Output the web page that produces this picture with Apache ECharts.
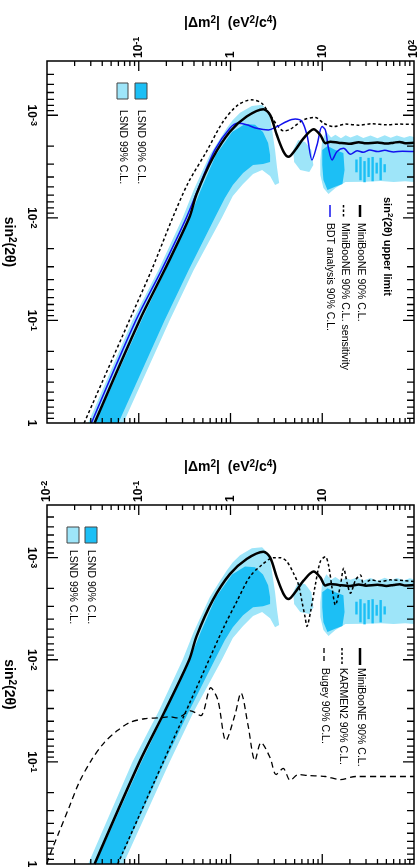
<!DOCTYPE html>
<html>
<head>
<meta charset="utf-8">
<script src="https://cdn.jsdelivr.net/npm/echarts@6/dist/echarts.min.js"></script>
<style>
html, body { margin: 0; padding: 0; background: #fff; }
#chart { width: 418px; height: 867px; }
</style>
</head>
<body>
<div id="chart"></div>
<script>
// points are [Δm² (eV²/c⁴), sin²(2θ)]
var miniboone90 = [[0.033, 1.0], [0.102, 0.1], [0.191, 0.0323], [0.355, 0.01], [0.426, 0.0059], [0.641, 0.00261],
  [0.984, 0.00145], [1.50, 0.00103], [2.28, 0.000873], [2.70, 0.000993], [3.20, 0.00156], [3.78, 0.00226],
  [4.29, 0.00254], [5.07, 0.00218], [6.25, 0.00168], [8.05, 0.00137], [9.53, 0.00156], [10.8, 0.00187],
  [12.3, 0.00181], [15, 0.00185], [20, 0.0019], [25, 0.00183], [30, 0.00188], [40, 0.00184], [50, 0.00189],
  [60, 0.00185], [70, 0.00182], [80, 0.00187], [100, 0.00185]];
var sensitivity90 = [[0.0254, 1.0], [0.079, 0.1], [0.138, 0.0323], [0.234, 0.01], [0.344, 0.0046], [0.547, 0.00226],
  [0.832, 0.00115], [1.21, 0.000793], [1.70, 0.000708], [2.19, 0.000764], [2.70, 0.000993], [3.20, 0.00124],
  [3.78, 0.00142], [4.47, 0.00137], [6.25, 0.00111], [8.40, 0.00105], [10.4, 0.0012], [13.3, 0.00129],
  [18, 0.00122], [25, 0.00125], [35, 0.00121], [50, 0.00124], [70, 0.00122], [100, 0.00123]];
var bdt90 = [[0.0305, 1.0], [0.093, 0.1], [0.177, 0.0323], [0.330, 0.01], [0.462, 0.00479], [0.675, 0.00218],
  [0.984, 0.00134], [1.21, 0.0012], [1.50, 0.00124], [1.93, 0.00134], [2.59, 0.00139], [3.20, 0.00129],
  [4.11, 0.00115], [5.07, 0.00109], [6.01, 0.00115], [6.82, 0.00156], [7.73, 0.00273], [8.77, 0.00195],
  [9.95, 0.00129], [10.8, 0.00139], [11.7, 0.0021], [12.8, 0.00273], [14.5, 0.00226], [17.1, 0.0021],
  [20.3, 0.0024], [24, 0.00222], [28, 0.0023], [33, 0.00218], [40, 0.00226], [48, 0.0022], [60, 0.00228],
  [75, 0.00224], [100, 0.00226]];
var karmen90 = [[0.059, 1.0], [0.144, 0.165], [0.304, 0.037], [0.533, 0.012], [0.836, 0.0049], [1.17, 0.00269],
  [1.63, 0.00153], [2.19, 0.00118], [2.94, 0.001], [3.48, 0.001], [4.11, 0.00109], [4.86, 0.00142],
  [5.52, 0.00185], [6.01, 0.00269], [6.53, 0.00391], [6.81, 0.00471], [7.41, 0.00349], [8.40, 0.00185],
  [9.53, 0.00109], [10.8, 0.000977], [11.7, 0.00118], [12.8, 0.00199], [13.9, 0.0029], [15.8, 0.00185],
  [17.1, 0.00127], [18.7, 0.00178], [20.3, 0.00223], [23.1, 0.00165], [26.1, 0.00148], [28.4, 0.00185],
  [33.6, 0.00165], [43.3, 0.00171], [55.7, 0.00165], [78, 0.00168], [100, 0.00171]];
var bugey90 = [[0.01, 1.0], [0.0105, 0.857], [0.0135, 0.49], [0.0174, 0.279], [0.0224, 0.159], [0.0303, 0.097],
  [0.0421, 0.0647], [0.0585, 0.0494], [0.079, 0.0413], [0.115, 0.0378], [0.169, 0.037], [0.217, 0.0361],
  [0.265, 0.037], [0.368, 0.0316], [0.474, 0.0353], [0.61, 0.0188], [0.728, 0.0247], [0.891, 0.0619],
  [1.12, 0.0345], [1.30, 0.0211], [1.55, 0.0433], [1.85, 0.097], [2.15, 0.0647], [2.70, 0.0908],
  [3.14, 0.133], [3.75, 0.116], [4.48, 0.152], [5.47, 0.133], [7.05, 0.136], [10.8, 0.139], [15.8, 0.149],
  [23.1, 0.139], [43.3, 0.139], [100, 0.139]];

// LSND allowed regions (outlines)
var lsnd99 = [
  [[0.0281, 1], [0.0853, 0.1], [0.164, 0.0323], [0.301, 0.01], [0.397, 0.00536], [0.594, 0.00244], [0.728, 0.00182],
   [0.914, 0.00133], [1.06, 0.00111], [1.27, 0.000948], [1.71, 0.000811], [2.21, 0.000792], [2.64, 0.000929],
   [2.84, 0.00139], [3.06, 0.00218], [3.22, 0.00327], [3.39, 0.00457], [3.06, 0.00479], [2.70, 0.00391],
   [2.21, 0.00341], [1.76, 0.00373], [1.37, 0.00468], [1.06, 0.00612], [0.805, 0.01], [0.397, 0.0323],
   [0.217, 0.1], [0.0679, 1]],
  [[4.82, 0.00218], [5.47, 0.00174], [6.53, 0.00182], [7.60, 0.00218], [8.0, 0.00306], [7.23, 0.00357],
   [5.75, 0.00341], [4.94, 0.00285]],
  [[9.53, 0.00273], [10.0, 0.00174], [11.1, 0.00145], [12.5, 0.00165], [13.9, 0.00155], [16, 0.00168], [18, 0.00157],
   [20.3, 0.00165], [24, 0.00156], [28, 0.00167], [33.6, 0.00158], [40, 0.00168], [48, 0.00157], [55.7, 0.00166],
   [65, 0.00158], [78, 0.00166], [90, 0.00159], [100, 0.00163], [100, 0.00447], [80, 0.0044], [60, 0.00447],
   [43.3, 0.00438], [30, 0.00445], [17.9, 0.00447], [13.9, 0.00512], [11.7, 0.00586], [10.3, 0.00512],
   [9.53, 0.00382]]
];
var lsnd90 = [
  [[0.0336, 1], [0.107, 0.1], [0.196, 0.0323], [0.359, 0.01], [0.474, 0.00536], [0.692, 0.00244], [1.04, 0.00146],
   [1.44, 0.00122], [1.85, 0.00124], [2.26, 0.00146], [2.57, 0.00186], [2.70, 0.00244], [2.70, 0.00285],
   [2.26, 0.00299], [1.76, 0.00306], [1.37, 0.00366], [1.06, 0.00479], [0.869, 0.00641], [0.675, 0.01],
   [0.35, 0.0323], [0.191, 0.1], [0.06, 1]],
  [[10.0, 0.00218], [11.4, 0.00199], [13.9, 0.00218], [17.0, 0.00233], [17.5, 0.00341], [16.6, 0.00468],
   [13.6, 0.005], [11.4, 0.00536], [10.3, 0.00428], [10.0, 0.00306]]
];
// narrow 90% strips: [Δm², top sin², bottom sin²]
var lsnd90Strips = [[23.6, 0.0027, 0.0036], [26.1, 0.00255, 0.0043], [28.9, 0.0028, 0.0045], [32, 0.0026, 0.004],
  [35.4, 0.00255, 0.0044], [39.2, 0.0029, 0.0037], [43.3, 0.0026, 0.0043], [47.9, 0.003, 0.0036]];

var xRange = [0.01, 100];
var yRange1 = [2.96e-4, 1];
var yRange2 = [3.05e-4, 1];
var xMajorTicks = [0.1, 1, 10];
var xMinorTicks = [0.02, 0.03, 0.04, 0.05, 0.06, 0.07, 0.08, 0.09, 0.2, 0.3, 0.4, 0.5, 0.6, 0.7, 0.8, 0.9,
  2, 3, 4, 5, 6, 7, 8, 9, 20, 30, 40, 50, 60, 70, 80, 90];
var yMajorTicks = [0.001, 0.01, 0.1];
var yMinorTicks = [0.0004, 0.0005, 0.0006, 0.0007, 0.0008, 0.0009, 0.002, 0.003, 0.004, 0.005, 0.006, 0.007, 0.008, 0.009,
  0.02, 0.03, 0.04, 0.05, 0.06, 0.07, 0.08, 0.09, 0.2, 0.3, 0.4, 0.5, 0.6, 0.7, 0.8, 0.9];

var LIGHT = '#9ee5f9', DARK = '#1cbff5', BLUE = '#1212ee';
var FONT = '"Liberation Sans", Arial, sans-serif';
var GRIDS = [
  { left: 47, top: 61, width: 367, height: 362 },
  { left: 47, top: 505, width: 367, height: 359 }
];

var chart = echarts.init(document.getElementById('chart'));

function polyRender(polys, color) {
  return function (params, api) {
    var pts = polys[params.dataIndex].map(function (p) { return api.coord(p); });
    return { type: 'polygon', shape: { points: pts }, style: { fill: color } };
  };
}

function stripRender(params, api) {
  var a = api.coord([api.value(0), api.value(1)]);
  var b = api.coord([api.value(0), api.value(2)]);
  return { type: 'rect', shape: { x: a[0] - 1.2, y: a[1], width: 2.4, height: b[1] - a[1] }, style: { fill: DARK } };
}

function tickLabel(hide) {
  return function (v) {
    var l = Math.log10(v), e = Math.round(l);
    if (Math.abs(l - e) > 1e-6 || hide.indexOf(e) >= 0) return '';
    if (e === 0) return '{b|1}';
    if (e === 1) return '{b|10}';
    return '{b|10}{s|' + e + '}';
  };
}

var labelRich = {
  b: { fontSize: 12, fontWeight: 'bold', fontFamily: FONT, color: '#000', lineHeight: 14 },
  s: { fontSize: 9, fontWeight: 'bold', fontFamily: FONT, color: '#000', verticalAlign: 'top', lineHeight: 7 }
};
var nameRich = {
  t: { fontSize: 14, fontWeight: 'bold', fontFamily: FONT, color: '#000', lineHeight: 16 },
  u: { fontSize: 10, fontWeight: 'bold', fontFamily: FONT, color: '#000', verticalAlign: 'top', lineHeight: 8 }
};

function xAxisFor(gi, hide) {
  return {
    type: 'log', logBase: 10, gridIndex: gi, position: 'top', min: xRange[0], max: xRange[1],
    axisLine: { show: false, onZero: false }, axisTick: { show: false }, splitLine: { show: false },
    axisLabel: { rotate: -90, margin: 3, formatter: tickLabel(hide), rich: labelRich, showMinLabel: true, showMaxLabel: true },
    name: '{t||Δm}{u|2}{t||  (eV}{u|2}{t|/c}{u|4}{t|)}', nameLocation: 'middle', nameGap: 30,
    nameTextStyle: { rich: nameRich }
  };
}

function yAxisFor(gi, yr) {
  return {
    type: 'log', logBase: 10, gridIndex: gi, inverse: true, min: yr[0], max: yr[1],
    axisLine: { show: false, onZero: false }, axisTick: { show: false }, splitLine: { show: false },
    axisLabel: { rotate: -90, margin: 9, formatter: tickLabel([]), rich: labelRich, showMinLabel: true, showMaxLabel: true },
    name: '{t|sin}{u|2}{t|(2θ)}', nameLocation: 'middle', nameRotate: -90, nameGap: 17,
    nameTextStyle: { rich: nameRich }
  };
}

function lineSeries(gi, data, color, width, dash, z) {
  return {
    type: 'line', xAxisIndex: gi, yAxisIndex: gi, data: data, symbol: 'none', smooth: 0.3, silent: true, z: z,
    lineStyle: { color: color, width: width, type: dash || 'solid' }
  };
}

// frame ticks as short segments of a broken line series; the inner end is the tick length
// (in px) turned into a factor along the log axis
function frameTicks(gi, yr) {
  var g = GRIDS[gi];
  var xDecade = g.width / Math.log10(xRange[1] / xRange[0]);
  var yDecade = g.height / Math.log10(yr[1] / yr[0]);
  var segs = [];
  function xt(vals, len) {
    var f = Math.pow(10, len / yDecade);
    vals.forEach(function (v) {
      segs.push([v, yr[0]], [v, yr[0] * f], [null, null], [v, yr[1]], [v, yr[1] / f], [null, null]);
    });
  }
  function yt(vals, len) {
    var f = Math.pow(10, len / xDecade);
    vals.forEach(function (v) {
      segs.push([xRange[0], v], [xRange[0] * f, v], [null, null], [xRange[1], v], [xRange[1] / f, v], [null, null]);
    });
  }
  xt(xMinorTicks, 5); xt(xMajorTicks, 10);
  yt(yMinorTicks, 7); yt(yMajorTicks, 11);
  return { type: 'line', xAxisIndex: gi, yAxisIndex: gi, data: segs, symbol: 'none', connectNulls: false,
    silent: true, z: 6, lineStyle: { color: '#000', width: 1.3 } };
}

function panelSeries(gi, yr, lines) {
  return [
    { type: 'custom', xAxisIndex: gi, yAxisIndex: gi, clip: true, silent: true, z: 1,
      renderItem: polyRender(lsnd99, LIGHT), data: lsnd99.map(function (p) { return p[0]; }) },
    { type: 'custom', xAxisIndex: gi, yAxisIndex: gi, clip: true, silent: true, z: 1,
      renderItem: polyRender(lsnd90, DARK), data: lsnd90.map(function (p) { return p[0]; }) },
    { type: 'custom', xAxisIndex: gi, yAxisIndex: gi, clip: true, silent: true, z: 1,
      renderItem: stripRender, data: lsnd90Strips }
  ].concat(lines, [frameTicks(gi, yr)]);
}

// legend pieces (rotated like the rest of the figure)
function vtext(x, y, text, size, weight) {
  return { type: 'text', x: x, y: y, rotation: -Math.PI / 2, z: 100, silent: true,
    style: { text: text, fill: '#000', fontSize: size, fontWeight: weight || 'normal', fontFamily: FONT,
      align: 'left', verticalAlign: 'middle', textAlign: 'left', textVerticalAlign: 'middle',
      rich: { s: { fontSize: size - 3, fontWeight: weight || 'normal', fontFamily: FONT, verticalAlign: 'top', lineHeight: 6 },
              n: { fontSize: size, fontWeight: weight || 'normal', fontFamily: FONT, lineHeight: 13 } } } };
}
function vline(x, y1, y2, color, width, dash) {
  return { type: 'line', z: 100, silent: true, shape: { x1: x, y1: y1, x2: x, y2: y2 },
    style: { stroke: color, lineWidth: width, lineDash: dash || null } };
}
function box(x, y, w, h, fill) {
  return { type: 'rect', z: 100, silent: true, shape: { x: x, y: y, width: w, height: h },
    style: { fill: fill, stroke: '#444', lineWidth: 1 } };
}

var option = {
  animation: false,
  grid: GRIDS.map(function (g) {
    return Object.assign({ containLabel: false, outerBoundsMode: 'none', show: true,
      borderColor: '#000', borderWidth: 1.5, z: 5 }, g);
  }),
  xAxis: [xAxisFor(0, [-2]), xAxisFor(1, [2])],
  yAxis: [yAxisFor(0, yRange1), yAxisFor(1, yRange2)],
  series: panelSeries(0, yRange1, [
    lineSeries(0, sensitivity90, '#000', 1.5, [3, 2.5], 3),
    lineSeries(0, bdt90, BLUE, 1.5, null, 4),
    lineSeries(0, miniboone90, '#000', 2.5, null, 5)
  ]).concat(panelSeries(1, yRange2, [
    lineSeries(1, bugey90, '#000', 1.3, [6, 4], 3),
    lineSeries(1, karmen90, '#000', 1.5, [3, 2.5], 4),
    lineSeries(1, miniboone90, '#000', 2.5, null, 5)
  ])),
  graphic: [
    box(117, 83, 11, 16, LIGHT), box(135, 83, 12, 16, DARK),
    vtext(122.5, 110, 'LSND 99% C.L.', 10.5), vtext(141, 110, 'LSND 90% C.L.', 10.5),
    vtext(387.5, 197, '{n|sin}{s|2}{n|(2θ) upper limit}', 11, 'bold'),
    vline(360, 205, 217, '#000', 2.5), vtext(360.5, 223, 'MiniBooNE 90% C.L.', 10.5),
    vline(343.5, 205, 217, '#000', 1.5, [2.5, 2]), vtext(344.5, 223, 'MiniBooNE 90% C.L. sensitivity', 10.5),
    vline(330, 205, 217, BLUE, 1.5), vtext(330, 223, 'BDT analysis 90% C.L.', 10.5),

    box(67, 527, 12, 16, LIGHT), box(85, 527, 12, 16, DARK),
    vtext(73, 550, 'LSND 99% C.L.', 10.5), vtext(91, 550, 'LSND 90% C.L.', 10.5),
    vline(360, 648, 665, '#000', 2.5), vtext(361, 668, 'MiniBooNE 90% C.L.', 10.5),
    vline(342, 648, 665, '#000', 1.5, [2.5, 2]), vtext(343, 668, 'KARMEN2 90% C.L.', 10.5),
    vline(324, 648, 664, '#000', 1.3, [5, 3]), vtext(325, 668, 'Bugey 90% C.L.', 10.5)
  ]
};

chart.setOption(option);

window.addEventListener('resize', function () {
  chart.resize();
});
</script>
</body>
</html>
